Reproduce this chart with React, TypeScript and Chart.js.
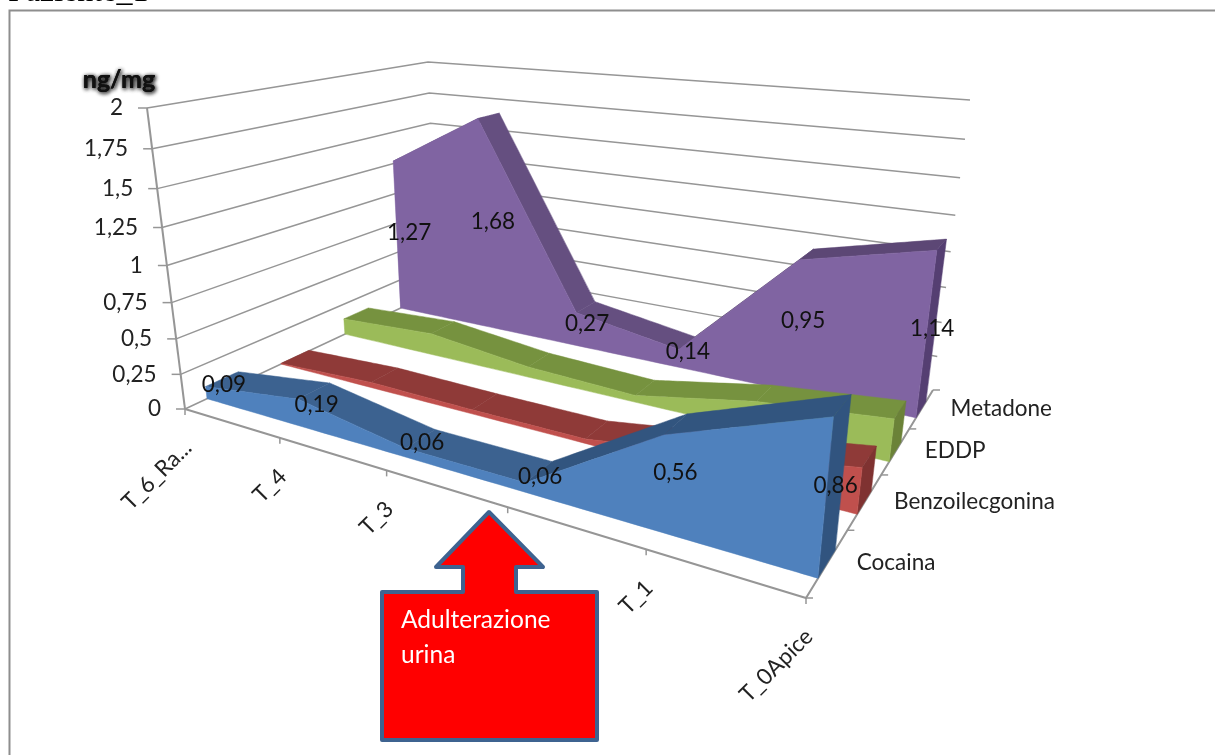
import React, { useEffect, useRef } from "react";
import { Chart, registerables } from "chart.js";

Chart.register(...registerables);

const WIDTH = 1215;
const HEIGHT = 755;

// Values
const categories = ["T_6_Ra...", "T_4", "T_3", "T_2", "T_1", "T_0Apice"];
const cocaina = [0.09, 0.19, 0.06, 0.06, 0.56, 0.86];
const benzoilecgonina = [0.005, 0.04, 0.03, 0.03, 0.15, 0.28];
const eddp = [0.13, 0.17, 0.08, 0.05, 0.2, 0.28];
const metadone = [1.27, 1.68, 0.27, 0.14, 0.95, 1.14];
const heightTicks = [0, 0.25, 0.5, 0.75, 1, 1.25, 1.5, 1.75, 2];
const heightLabels = ["0", "0,25", "0,5", "0,75", "1", "1,25", "1,5", "1,75", "2"];
const decimal = (v: number) => v.toFixed(2).replace(".", ",");

type Colors = { front: string; top: string; topFar: string; side: string };
const seriesList: { name: string; values: number[]; labelled: boolean; colors: Colors }[] = [
  { name: "Cocaina", values: cocaina, labelled: true, colors: { front: "#4f81bd", top: "#3c6290", topFar: "#32557f", side: "#31547f" } },
  { name: "Benzoilecgonina", values: benzoilecgonina, labelled: false, colors: { front: "#c0504d", top: "#8f3a38", topFar: "#8f3a38", side: "#7f3231" } },
  { name: "EDDP", values: eddp, labelled: false, colors: { front: "#9bbb59", top: "#76923f", topFar: "#76923f", side: "#6b8238" } },
  { name: "Metadone", values: metadone, labelled: true, colors: { front: "#8064a2", top: "#654f80", topFar: "#5c4775", side: "#553f72" } },
];

// View of the plot box: floor and ceiling corners, keyed by category-axis and depth-axis ends
type Pt = { x: number; y: number };
const floorCorners: Pt[] = [
  { x: 185, y: 409 },
  { x: 806, y: 598 },
  { x: 933, y: 390 },
  { x: 437, y: 291 },
];
const ceilingCorners: Pt[] = [
  { x: 147, y: 108 },
  { x: 843, y: 191 },
  { x: 970, y: 100 },
  { x: 428, y: 62 },
];
const HEIGHT_MAX = 2;
const HEIGHT_FORESHORTEN = 0.911;
const RIBBON_NEAR = 0.27;
const RIBBON_FAR = 0.69;

function quadMap(q: Pt[]) {
  const [p0, p1, p2, p3] = q;
  const dx1 = p1.x - p2.x, dx2 = p3.x - p2.x, sx = p0.x - p1.x + p2.x - p3.x;
  const dy1 = p1.y - p2.y, dy2 = p3.y - p2.y, sy = p0.y - p1.y + p2.y - p3.y;
  const den = dx1 * dy2 - dx2 * dy1;
  const g = (sx * dy2 - dx2 * sy) / den;
  const h = (dx1 * sy - sx * dy1) / den;
  const a = p1.x - p0.x + g * p1.x, b = p3.x - p0.x + h * p3.x, c = p0.x;
  const d = p1.y - p0.y + g * p1.y, e = p3.y - p0.y + h * p3.y, f = p0.y;
  return (u: number, v: number): Pt => {
    const w = g * u + h * v + 1;
    return { x: (a * u + b * v + c) / w, y: (d * u + e * v + f) / w };
  };
}
const floorAt = quadMap(floorCorners);
const ceilingAt = quadMap(ceilingCorners);

// u: category position 0..1, v: depth position 0..1, value: height in ng/mg
function project(u: number, v: number, value: number): Pt {
  const F = floorAt(u, v);
  const T = ceilingAt(u, v);
  const t = value / HEIGHT_MAX;
  const k = HEIGHT_FORESHORTEN;
  const den = 1 - t + t * k;
  return { x: ((1 - t) * F.x + t * k * T.x) / den, y: ((1 - t) * F.y + t * k * T.y) / den };
}

const catPos = (i: number) => i / (categories.length - 1);
const bandNear = (s: number) => (s + RIBBON_NEAR) / seriesList.length;
const bandFar = (s: number) => (s + RIBBON_FAR) / seriesList.length;

const FRAME = "#8e8e8e";
const GRID = "#969696";

let drawOrder = 1000;
function polygon(points: Pt[], color: string) {
  return {
    data: points,
    showLine: true,
    fill: "shape",
    backgroundColor: color,
    borderColor: color,
    borderWidth: 0.5,
    pointRadius: 0,
    tension: 0.0001,
    order: drawOrder--,
    clip: false,
  };
}
function stroke(points: Pt[], color: string, width: number) {
  return {
    data: points,
    showLine: true,
    fill: false,
    borderColor: color,
    borderWidth: width,
    pointRadius: 0,
    tension: 0.0001,
    order: drawOrder--,
    clip: false,
  };
}

function buildDatasets() {
  drawOrder = 1000;
  const sets: any[] = [];
  sets.push(stroke([{ x: 9.5, y: HEIGHT }, { x: 9.5, y: 10.5 }, { x: WIDTH, y: 10.5 }], FRAME, 2));

  // walls
  heightTicks.forEach((tick) => {
    const a = project(0, 0, tick);
    if (tick === 0) {
      sets.push(stroke([a, project(0, 1, 0)], GRID, 1.5));
    } else {
      sets.push(stroke([a, project(0, 1, tick), project(1, 1, tick)], GRID, 1.5));
    }
    sets.push(stroke([{ x: a.x - 9, y: a.y }, a], GRID, 1.5));
  });
  sets.push(stroke([project(0, 0, 2), project(0, 0, 0)], GRID, 2));

  // floor edges
  sets.push(stroke([project(0, 0, 0), project(1, 0, 0), project(1, 1, 0)], GRID, 2));
  categories.forEach((_, i) => {
    const p = project(catPos(i), 0, 0);
    sets.push(stroke([p, { x: p.x, y: p.y + 6 }], GRID, 1.5));
  });
  for (let s = 0; s <= seriesList.length; s++) {
    const p = project(1, s / seriesList.length, 0);
    sets.push(stroke([p, { x: p.x + 7, y: p.y }], GRID, 1.5));
  }

  // ribbons, far series first
  for (let s = seriesList.length - 1; s >= 0; s--) {
    const { values, colors } = seriesList[s];
    const near = bandNear(s);
    const far = bandFar(s);
    const n = values.length;
    for (let i = 0; i < n - 1; i++) {
      const u0 = catPos(i), u1 = catPos(i + 1);
      sets.push(
        polygon(
          [
            project(u0, near, values[i]),
            project(u1, near, values[i + 1]),
            project(u1, far, values[i + 1]),
            project(u0, far, values[i]),
            project(u0, near, values[i]),
          ],
          i >= n - 3 ? colors.topFar : colors.top
        )
      );
    }
    sets.push(
      polygon(
        [
          project(1, near, 0),
          project(1, far, 0),
          project(1, far, values[n - 1]),
          project(1, near, values[n - 1]),
          project(1, near, 0),
        ],
        colors.side
      )
    );
    const front: Pt[] = [project(0, near, 0)];
    values.forEach((val, i) => front.push(project(catPos(i), near, val)));
    front.push(project(1, near, 0), project(0, near, 0));
    sets.push(polygon(front, colors.front));
  }
  return sets;
}

const UI_FONT = "Lato";

function text(ctx: CanvasRenderingContext2D, s: string, x: number, y: number, font: string, color: string, align: CanvasTextAlign = "center") {
  ctx.font = font;
  ctx.fillStyle = color;
  ctx.textAlign = align;
  ctx.textBaseline = "middle";
  ctx.fillText(s, x, y);
}

const overlay = {
  id: "overlay",
  afterDatasetsDraw(chart: any) {
    const ctx: CanvasRenderingContext2D = chart.ctx;
    ctx.save();

    // cropped sheet heading
    ctx.font = "32px 'Liberation Serif'";
    ctx.fillStyle = "#000";
    ctx.textAlign = "left";
    ctx.textBaseline = "alphabetic";
    ctx.fillText("Paziente_1", 8, 1);

    heightTicks.forEach((tick, i) => {
      const p = project(0, 0, tick);
      text(ctx, heightLabels[i], p.x - 24, p.y, `22.5px ${UI_FONT}`, "#222", "right");
    });

    categories.forEach((label, i) => {
      const p = project(catPos(i), 0, 0);
      ctx.save();
      ctx.translate(p.x + 3, p.y + 35);
      ctx.rotate(-Math.PI / 4);
      text(ctx, label, 0, 0, `22.5px ${UI_FONT}`, "#222", "right");
      ctx.restore();
    });

    seriesList.forEach((series, s) => {
      const p = project(1, (s + 0.5) / seriesList.length, 0);
      text(ctx, series.name, p.x + 29, p.y, `22.5px ${UI_FONT}`, "#222", "left");
    });

    seriesList.forEach((series, s) => {
      if (!series.labelled) return;
      const mid = (bandNear(s) + bandFar(s)) / 2;
      series.values.forEach((val, i) => {
        const p = project(catPos(i), mid, val / 2);
        text(ctx, decimal(val), p.x + 1, p.y, `22.5px ${UI_FONT}`, "#111");
      });
    });

    // axis unit, bold with a heavy shadow
    ctx.save();
    ctx.shadowColor = "rgba(0,0,0,0.85)";
    ctx.shadowBlur = 4;
    ctx.shadowOffsetX = 1;
    ctx.shadowOffsetY = 1;
    text(ctx, "ng/mg", 119, 80, `bold 25px ${UI_FONT}`, "#111");
    text(ctx, "ng/mg", 119, 80, `bold 25px ${UI_FONT}`, "#111");
    ctx.restore();

    // callout arrow
    ctx.beginPath();
    ctx.moveTo(489, 512);
    ctx.lineTo(543, 567);
    ctx.lineTo(516, 567);
    ctx.lineTo(516, 592);
    ctx.lineTo(597, 592);
    ctx.lineTo(597, 740);
    ctx.lineTo(382, 740);
    ctx.lineTo(382, 592);
    ctx.lineTo(463, 592);
    ctx.lineTo(463, 567);
    ctx.lineTo(436, 567);
    ctx.closePath();
    ctx.fillStyle = "#ff0000";
    ctx.fill();
    ctx.strokeStyle = "#3e6390";
    ctx.lineWidth = 4;
    ctx.lineJoin = "round";
    ctx.stroke();
    text(ctx, "Adulterazione", 401, 620, `24.5px ${UI_FONT}`, "#fff", "left");
    text(ctx, "urina", 401, 655, `24.5px ${UI_FONT}`, "#fff", "left");

    ctx.restore();
  },
};

export default function App() {
  const ref = useRef<HTMLCanvasElement>(null);
  useEffect(() => {
    if (!ref.current) return;
    const chart = new Chart(ref.current, {
      type: "scatter",
      data: { datasets: buildDatasets() },
      options: {
        animation: false,
        responsive: false,
        devicePixelRatio: 1,
        layout: { padding: 0 },
        elements: { line: { capBezierPoints: false } },
        scales: {
          x: { type: "linear", min: 0, max: WIDTH, display: false },
          y: { type: "linear", min: 0, max: HEIGHT, reverse: true, display: false },
        },
        plugins: { legend: { display: false }, tooltip: { enabled: false }, title: { display: false } },
      },
      plugins: [overlay],
    } as any);
    return () => chart.destroy();
  }, []);
  return (
    <div style={{ position: "fixed", left: 0, top: 0, width: WIDTH, height: HEIGHT, background: "#fff" }}>
      <canvas ref={ref} width={WIDTH} height={HEIGHT} style={{ display: "block" }} />
    </div>
  );
}
